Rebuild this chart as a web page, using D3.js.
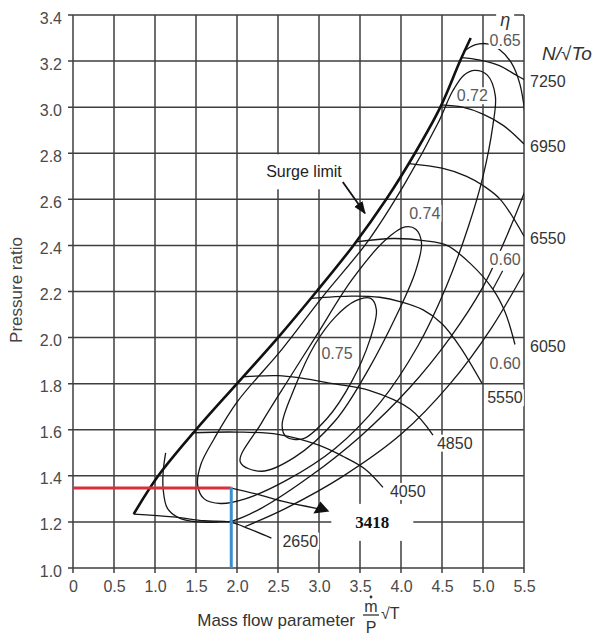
<!DOCTYPE html>
<html>
<head>
<meta charset="utf-8">
<script src="https://cdn.jsdelivr.net/npm/d3@7"></script>
<style>
  body { margin: 0; background: #fff; }
  text { font-family: "Liberation Sans", Arial, sans-serif; }
</style>
</head>
<body>
<svg id="chart" width="603" height="637"></svg>
<script>
// ===== data =====
const xTicks = [0, 0.5, 1.0, 1.5, 2.0, 2.5, 3.0, 3.5, 4.0, 4.5, 5.0, 5.5]
const yTicks = [1.0, 1.2, 1.4, 1.6, 1.8, 2.0, 2.2, 2.4, 2.6, 2.8, 3.0, 3.2, 3.4]

const surgeLimit = [[0.74, 1.234], [1.04, 1.4], [1.5, 1.6], [2.0, 1.8], [2.5, 2.0], [2.97, 2.2],
  [3.42, 2.4], [3.82, 2.6], [4.17, 2.8], [4.48, 3.0], [4.72, 3.2], [4.85, 3.3]]

// speed lines N/sqrt(To)
const speedNames = ['2650', '4050', '4850', '5550', '6050', '6550', '6950', '7250']
const speed2650 = [[0.74, 1.234], [1.22, 1.222], [1.6, 1.205], [1.91, 1.2], [2.15, 1.17], [2.42, 1.13]]
const speed4050 = [[1.45, 1.587], [2.0, 1.59], [2.5, 1.58], [2.98, 1.535], [3.29, 1.485], [3.56, 1.43], [3.78, 1.35]]
const speed4850 = [[2.07, 1.83], [2.5, 1.835], [2.77, 1.825], [3.17, 1.8], [3.62, 1.77], [4.11, 1.69], [4.39, 1.577]]
const speed5550 = [[2.9, 2.17], [3.4, 2.18], [3.74, 2.175], [4.0, 2.155], [4.27, 2.12], [4.5, 2.06], [4.72, 1.96], [4.99, 1.8]]
const speed6050 = [[3.45, 2.415], [3.9, 2.43], [4.3, 2.42], [4.56, 2.4], [4.85, 2.32], [5.12, 2.21], [5.27, 2.11], [5.39, 1.97]]
const speed6550 = [[4.1, 2.755], [4.5, 2.735], [4.8, 2.7], [5.0, 2.66], [5.21, 2.6], [5.5, 2.44]]
const speed6950 = [[4.49, 3.01], [4.75, 3.0], [5.0, 2.97], [5.25, 2.92], [5.5, 2.84]]
const speed7250 = [[4.74, 3.215], [4.95, 3.205], [5.2, 3.18], [5.4, 3.14], [5.5, 3.12]]
const speedLines = [speed2650, speed4050, speed4850, speed5550, speed6050, speed6550, speed6950, speed7250]

// interpolated operating speed line
const speed3418 = [[1.93, 1.347], [2.25, 1.32], [2.55, 1.29], [2.98, 1.258]]

// efficiency contours (eta)
const eta075 = [[2.55, 1.62], [2.7, 1.78], [2.95, 1.97], [3.2, 2.09], [3.45, 2.16], [3.63, 2.17], [3.7, 2.12],
  [3.62, 1.99], [3.4, 1.81], [3.1, 1.65], [2.8, 1.56], [2.6, 1.57]]
const eta074 = [[2.04, 1.46], [2.3, 1.63], [2.65, 1.83], [2.97, 2.01], [3.4, 2.25], [3.8, 2.42], [4.05, 2.48],
  [4.18, 2.47], [4.25, 2.41], [4.17, 2.28], [3.95, 2.1], [3.6, 1.86], [3.2, 1.64], [2.7, 1.48], [2.3, 1.42]]
const eta072 = [[1.52, 1.36], [1.56, 1.45], [1.72, 1.56], [2.0, 1.72], [2.55, 1.95], [3.05, 2.18], [3.6, 2.42],
  [4.05, 2.67], [4.45, 2.93], [4.63, 3.07], [4.77, 3.14], [4.9, 3.16], [5.05, 3.14], [5.15, 3.05], [5.12, 2.92],
  [5.0, 2.7], [4.82, 2.48], [4.55, 2.22], [4.2, 1.96], [3.75, 1.72], [3.2, 1.52], [2.6, 1.38], [2.1, 1.3],
  [1.8, 1.28], [1.6, 1.3]]
const eta065Top = [[4.76, 3.24], [4.9, 3.27], [5.05, 3.275], [5.2, 3.25], [5.35, 3.19], [5.45, 3.1], [5.52, 2.95]]
const eta065Low = [[1.13, 1.5], [1.1, 1.42], [1.1, 1.34], [1.15, 1.26], [1.28, 1.22], [1.51, 1.2], [1.79, 1.2],
  [1.95, 1.205], [2.3, 1.26], [2.9, 1.4], [3.5, 1.57], [4.1, 1.78], [4.6, 2.0], [5.0, 2.22], [5.3, 2.45], [5.56, 2.68]]
const eta060 = [[2.1, 1.18], [2.6, 1.26], [3.3, 1.4], [4.0, 1.58], [4.6, 1.8], [5.1, 2.04], [5.56, 2.32]]

const etaNames = ['0.65', '0.72', '0.74', '0.75', '0.60', '0.60']
const etaLabelAt = [[5.27, 3.29], [4.87, 3.05], [4.29, 2.54], [3.22, 1.93], [5.27, 2.34], [5.27, 1.89]]

// operating point: pressure ratio 1.35 at mass flow 1.93
const opFlow = [1.93]
const opRatio = [1.347]

// ===== drawing =====
const svg = d3.select('#chart')
const x = d3.scaleLinear().domain([0, 5.5]).range([73, 524])
const y = d3.scaleLinear().domain([1, 3.4]).range([568, 15])

svg.append('defs').append('clipPath').attr('id', 'plot')
  .append('rect')
  .attr('x', x(0)).attr('y', y(3.4))
  .attr('width', x(5.5) - x(0)).attr('height', y(1) - y(3.4))

svg.select('defs').append('marker')
  .attr('id', 'arrow')
  .attr('viewBox', '0 0 10 10')
  .attr('refX', 9).attr('refY', 5)
  .attr('markerWidth', 7).attr('markerHeight', 7)
  .attr('orient', 'auto')
  .append('path').attr('d', 'M0,1L10,5L0,9Z').attr('fill', '#111')

// grid
const grid = svg.append('g').attr('stroke', '#3e3e3e').attr('stroke-width', 1.5)
grid.selectAll('line.v')
  .data(xTicks)
  .join('line')
  .attr('class', 'v')
  .attr('x1', d => x(d)).attr('x2', d => x(d))
  .attr('y1', y(3.4)).attr('y2', y(1) + 5)
grid.selectAll('line.h')
  .data(yTicks)
  .join('line')
  .attr('class', 'h')
  .attr('x1', x(0) - 5).attr('x2', x(5.5))
  .attr('y1', d => y(d)).attr('y2', d => y(d))

// axes (labels only, grid drawn above)
const yAxis = svg.append('g')
  .attr('transform', `translate(${x(0)},0)`)
  .call(d3.axisLeft(y).tickValues(yTicks).tickSize(0).tickPadding(11).tickFormat(d3.format('.1f')))
yAxis.select('.domain').remove()
yAxis.selectAll('text').attr('dy', '0.5em').attr('font-size', 16).attr('fill', '#4a4a4a')
  .style('font-family', '"Liberation Sans", Arial, sans-serif')

const xAxis = svg.append('g')
  .attr('transform', `translate(0,${y(1)})`)
  .call(d3.axisBottom(x).tickValues(xTicks).tickSize(0).tickPadding(13)
    .tickFormat(d => d === 0 ? '0' : d.toFixed(1)))
xAxis.select('.domain').remove()
xAxis.selectAll('text').attr('font-size', 16).attr('fill', '#4a4a4a')
  .style('font-family', '"Liberation Sans", Arial, sans-serif')

// curves
const line = d3.line().x(d => x(d[0])).y(d => y(d[1])).curve(d3.curveCatmullRom.alpha(0.5))
const loop = d3.line().x(d => x(d[0])).y(d => y(d[1])).curve(d3.curveCatmullRomClosed.alpha(0.5))

const curves = svg.append('g')
  .attr('clip-path', 'url(#plot)')
  .attr('fill', 'none')
  .attr('stroke', '#161616')
  .attr('stroke-width', 1.3)

curves.selectAll('path.speed')
  .data(speedLines)
  .join('path')
  .attr('class', 'speed')
  .attr('d', line)

curves.selectAll('path.eta-open')
  .data([eta065Top, eta065Low, eta060])
  .join('path')
  .attr('class', 'eta-open')
  .attr('d', line)

curves.selectAll('path.eta-loop')
  .data([eta072, eta074, eta075])
  .join('path')
  .attr('class', 'eta-loop')
  .attr('d', loop)

curves.append('path').attr('d', line(speed3418))

// surge limit
svg.append('path')
  .attr('d', line(surgeLimit))
  .attr('fill', 'none')
  .attr('stroke', '#111')
  .attr('stroke-width', 2.6)

// arrow head at end of 3418 line
const end3418 = speed3418[speed3418.length - 1]
svg.append('path')
  .attr('transform', `translate(${x(end3418[0])},${y(end3418[1])})`)
  .attr('d', 'M3,-7L-4,5L12,3Z')
  .attr('fill', '#111')

// operating point lines
svg.append('line')
  .attr('x1', x(0)).attr('x2', x(opFlow[0]))
  .attr('y1', y(opRatio[0])).attr('y2', y(opRatio[0]))
  .attr('stroke', '#d8303a').attr('stroke-width', 3)
svg.append('line')
  .attr('x1', x(opFlow[0])).attr('x2', x(opFlow[0]))
  .attr('y1', y(opRatio[0]) - 1).attr('y2', y(1))
  .attr('stroke', '#3b8fcf').attr('stroke-width', 3)

// labels with white boxes
const labels = svg.append('g')
function label(px, py, txt, opt = {}) {
  const g = labels.append('g')
  const t = g.append('text')
    .attr('x', px).attr('y', py)
    .attr('dy', '0.35em')
    .attr('text-anchor', opt.anchor || 'start')
    .attr('font-size', opt.size || 16)
    .attr('fill', opt.fill || '#3a3a3a')
    .text(txt)
  if (opt.italic) t.attr('font-style', 'italic')
  if (opt.serif) t.style('font-family', '"Liberation Serif", "Times New Roman", serif').attr('font-weight', 'bold')
  if (opt.bg !== false) {
    const b = t.node().getBBox()
    const px2 = opt.padX == null ? 1 : opt.padX
    const py2 = opt.padY == null ? 0 : opt.padY
    g.insert('rect', 'text')
      .attr('x', b.x - px2).attr('y', b.y - py2)
      .attr('width', b.width + 2 * px2).attr('height', b.height + 2 * py2)
      .attr('fill', '#fff')
  }
  return t
}

// 3418 box goes first so the other labels stay on top
label(x(3.65), y(1.2), '3418', { serif: true, anchor: 'middle', size: 17, fill: '#111', padX: 24, padY: 9 })

// speed labels
const endOf = a => a[a.length - 1]
const inside = [[11, 3], [7, 4], [4, 8], [5, 14]]
speedNames.forEach((s, i) => {
  const e = endOf(speedLines[i])
  if (i < 4) label(x(e[0]) + inside[i][0], y(e[1]) + inside[i][1], s, { fill: '#333' })
  else label(x(5.5) + 6, y(e[1]) + 2, s, { fill: '#333', bg: false })
})

// efficiency labels
etaNames.forEach((s, i) => {
  label(x(etaLabelAt[i][0]), y(etaLabelAt[i][1]), s, { anchor: 'middle', fill: '#5a5a5a' })
})
// leader of upper 0.60 label
svg.append('line')
  .attr('x1', x(5.24)).attr('y1', y(2.29)).attr('x2', x(5.12)).attr('y2', y(2.21))
  .attr('stroke', '#161616').attr('stroke-width', 1.2)

label(x(5.27), y(3.38), 'η', { anchor: 'middle', italic: true, size: 18, fill: '#333', padX: 4 })
label(x(5.5) + 18, y(3.234), 'N/√To', { italic: true, size: 19, fill: '#333', bg: false })

// surge limit annotation
label(x(3.29) - 1, y(2.72), 'Surge limit', { anchor: 'end', size: 16, fill: '#222', padX: 5, padY: 9 })
svg.append('line')
  .attr('x1', x(3.29)).attr('y1', y(2.675))
  .attr('x2', x(3.56)).attr('y2', y(2.54))
  .attr('stroke', '#111').attr('stroke-width', 1.8)
  .attr('marker-end', 'url(#arrow)')

// axis titles
svg.append('text')
  .attr('transform', 'translate(22,290) rotate(-90)')
  .attr('text-anchor', 'middle')
  .attr('font-size', 17)
  .attr('fill', '#444')
  .text('Pressure ratio')

svg.append('text')
  .attr('x', 355).attr('y', 626)
  .attr('text-anchor', 'end')
  .attr('font-size', 17)
  .attr('fill', '#333')
  .text('Mass flow parameter')
const frac = svg.append('g').attr('fill', '#333').attr('font-size', 16)
frac.append('text').attr('x', 371).attr('y', 612).attr('text-anchor', 'middle').text('m')
frac.append('circle').attr('cx', 371).attr('cy', 597).attr('r', 1.4)
frac.append('line').attr('x1', 363).attr('x2', 379).attr('y1', 615).attr('y2', 615)
  .attr('stroke', '#333').attr('stroke-width', 1.3)
frac.append('text').attr('x', 371).attr('y', 633).attr('text-anchor', 'middle').text('P')
frac.append('text').attr('x', 381).attr('y', 619).text('√T')
</script>
</body>
</html>
